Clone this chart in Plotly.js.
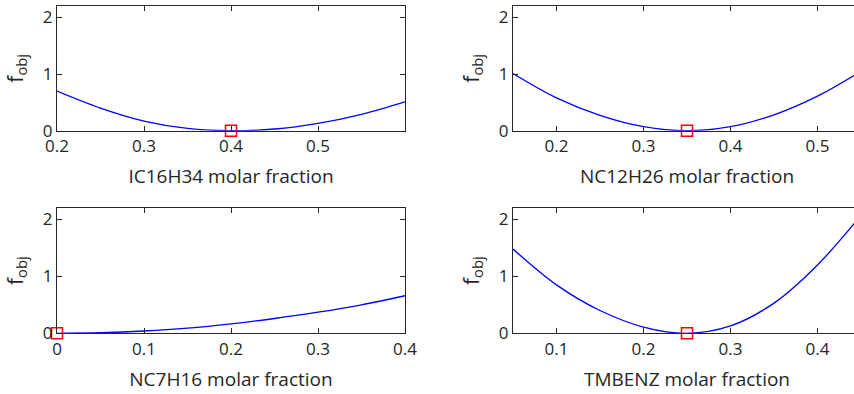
<!DOCTYPE html>
<html>
<head>
<meta charset="utf-8">
<script src="https://cdn.plot.ly/plotly-3.0.1.min.js"></script>
<style>
  html, body { margin: 0; padding: 0; overflow: hidden; background: #fff; }
  #chart { width: 870px; height: 394px; }
</style>
</head>
<body>
<div id="chart"></div>
<script>
// ---- data ----
const ic16X = [0.20, 0.25, 0.30, 0.35, 0.40, 0.45, 0.50, 0.55, 0.60];
const ic16Y = [0.70, 0.40, 0.17, 0.04, 0.00, 0.03, 0.13, 0.29, 0.51];
const ic16Opt = [0.40];

const nc12X = [0.15, 0.20, 0.25, 0.30, 0.35, 0.40, 0.45, 0.50, 0.55];
const nc12Y = [1.01, 0.58, 0.27, 0.07, 0.00, 0.07, 0.28, 0.61, 1.05];
const nc12Opt = [0.35];

const nc7X = [0.00, 0.05, 0.10, 0.15, 0.20, 0.25, 0.30, 0.35, 0.40];
const nc7Y = [0.00, 0.01, 0.04, 0.09, 0.165, 0.26, 0.37, 0.50, 0.66];
const nc7Opt = [0.00];

const tmbX = [0.05, 0.10, 0.15, 0.20, 0.25, 0.30, 0.35, 0.40, 0.45];
const tmbY = [1.48, 0.85, 0.40, 0.11, 0.00, 0.13, 0.53, 1.20, 2.07];
const tmbOpt = [0.25];

const optY = [0];

const xTitles = ["IC16H34 molar fraction", "NC12H26 molar fraction", "NC7H16 molar fraction", "TMBENZ molar fraction"];
const xTicks = [[0.2, 0.3, 0.4, 0.5], [0.2, 0.3, 0.4, 0.5], [0, 0.1, 0.2, 0.3, 0.4], [0.1, 0.2, 0.3, 0.4]];
const xTickText = [["0.2", "0.3", "0.4", "0.5"], ["0.2", "0.3", "0.4", "0.5"], ["0", "0.1", "0.2", "0.3", "0.4"], ["0.1", "0.2", "0.3", "0.4"]];
const xRanges = [[0.2, 0.6], [0.15, 0.55], [0, 0.4], [0.05, 0.45]];
const yTicks = [0, 1, 2];
const yTitle = "f<sub>obj</sub>";

// ---- figure ----
const W = 870, H = 394;
const series = [[ic16X, ic16Y, ic16Opt], [nc12X, nc12Y, nc12Opt], [nc7X, nc7Y, nc7Opt], [tmbX, tmbY, tmbOpt]];
const traces = [];
series.forEach((s, i) => {
  const ax = i === 0 ? "" : String(i + 1);
  traces.push({
    x: s[0], y: s[1], xaxis: "x" + ax, yaxis: "y" + ax,
    type: "scatter", mode: "lines",
    line: { color: "#0000ff", width: 1.3, shape: "spline", smoothing: 1 },
    hoverinfo: "skip", showlegend: false
  });
  traces.push({
    x: s[2], y: optY, xaxis: "x" + ax, yaxis: "y" + ax,
    type: "scatter", mode: "markers", cliponaxis: false,
    marker: { symbol: "square-open", size: 11, color: "#ff0000", line: { color: "#ff0000", width: 1.5 } },
    hoverinfo: "skip", showlegend: false
  });
});

const txt = "#262626";
const tickFont = { family: "Open Sans, sans-serif", size: 17, color: txt };
const titleFont = { family: "Open Sans, sans-serif", size: 19, color: txt };
const yTitleFont = { family: "Open Sans, sans-serif", size: 21, color: txt };
const xDom = [[57 / W, 405 / W], [513 / W, 861 / W]];
const yDom = [[(H - 130.7) / H, (H - 6) / H], [(H - 333.3) / H, (H - 208) / H]];

const layout = {
  width: W, height: H,
  margin: { l: 0, r: 0, t: 0, b: 0 },
  paper_bgcolor: "#fff", plot_bgcolor: "#fff",
  font: tickFont, showlegend: false
};

for (let i = 0; i < 4; i++) {
  const ax = i === 0 ? "" : String(i + 1);
  const col = i % 2, row = Math.floor(i / 2);
  layout["xaxis" + ax] = {
    domain: xDom[col], anchor: "y" + ax, range: xRanges[i],
    tickmode: "array", tickvals: xTicks[i], ticktext: xTickText[i],
    ticks: "inside", ticklen: 5, tickwidth: 1, tickcolor: txt,
    showline: true, linecolor: txt, linewidth: 1, mirror: "ticks",
    showgrid: false, zeroline: false,
    tickfont: tickFont,
    title: { text: xTitles[i], font: titleFont, standoff: 13 }
  };
  layout["yaxis" + ax] = {
    domain: yDom[row], anchor: "x" + ax, range: [0, 2.2],
    tickmode: "array", tickvals: yTicks,
    ticks: "inside", ticklen: 5, tickwidth: 1, tickcolor: txt,
    showline: true, linecolor: txt, linewidth: 1, mirror: "ticks",
    showgrid: false, zeroline: false,
    tickfont: tickFont,
    title: { text: yTitle, font: yTitleFont, standoff: 13 }
  };
}

Plotly.newPlot("chart", traces, layout, { displayModeBar: false, staticPlot: true });
</script>
</body>
</html>
